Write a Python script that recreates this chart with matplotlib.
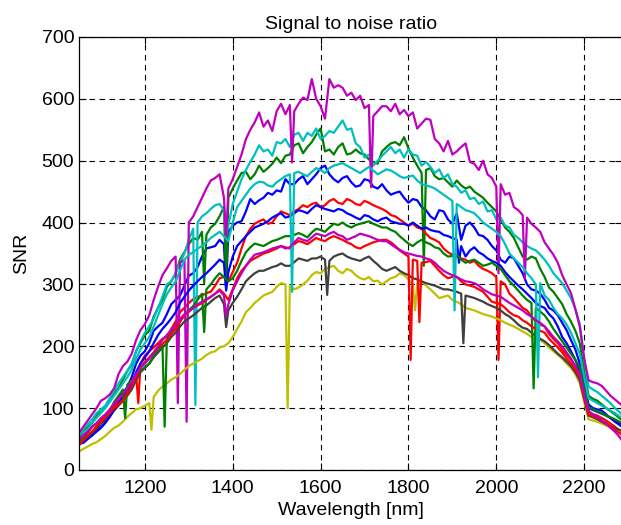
import matplotlib
matplotlib.use("Agg")
import matplotlib.pyplot as plt

plt.rcParams['font.family'] = ['Liberation Sans', 'DejaVu Sans']

# wavelength grid (nm), 10 nm steps from 1050 to 2290 (125 points)
wl = list(range(1050, 2291, 10))

# SNR values; each row = 100 nm (10 values), last row 2250-2290
b1 = [45,50,52,56,65,76,80,88,102,118,
      124,134,150,172,185,192,205,225,232,238,
      252,268,275,282,298,314,318,328,345,358,
      360,362,372,365,385,395,400,402,418,438,
      430,436,440,448,445,452,450,470,462,462,
      470,475,462,470,478,488,492,478,470,465,
      472,475,465,458,460,470,468,458,455,462,
      452,445,448,450,440,432,438,436,425,420,
      410,405,420,418,405,398,415,372,395,400,
      392,380,378,372,362,355,340,335,345,342,
      330,318,300,292,290,285,275,262,258,250,
      238,226,210,195,172,140,106,100,98,96,
      90,84,80,76,70]
b1_spikes = [(1385, 296)]

g1 = [52,64,70,76,88,97,102,115,124,132,
      146,160,170,192,205,218,225,248,262,275,
      296,305,318,340,352,365,375,372,385,380,
      392,398,410,425,440,455,468,480,482,470,
      478,492,482,488,495,505,496,508,510,525,
      528,512,522,530,542,552,515,518,510,522,
      528,510,512,518,512,510,502,498,495,515,
      522,528,530,525,538,520,505,492,480,485,
      488,475,470,472,465,458,468,460,455,458,
      450,445,440,432,425,418,405,392,385,375,
      360,345,340,345,342,325,312,295,288,278,
      268,252,240,225,205,160,120,115,112,106,
      100,95,90,84,78]
g1_spikes = [(1335, 302), (1385, 300), (1835, 330)]

r1 = [48,52,60,70,75,82,88,95,104,112,
      118,128,138,155,172,185,192,198,205,212,
      216,228,240,255,262,270,276,280,282,286,
      288,298,310,312,305,320,335,358,378,390,
      398,402,405,398,400,410,418,415,412,418,
      422,428,425,430,432,425,428,435,438,432,
      430,438,435,430,428,435,432,428,425,422,
      418,412,410,405,400,395,398,392,390,382,
      375,372,368,358,352,348,345,342,340,335,
      338,330,325,322,318,312,305,300,285,278,
      270,262,258,248,240,235,232,220,212,205,
      195,186,178,168,158,125,95,90,88,84,
      80,75,70,64,58]
r1_spikes = [(1185, 108), (2005, 178)]

c1 = [55,66,74,82,92,98,104,116,128,140,
      150,160,172,192,208,222,232,245,262,280,
      300,305,318,335,350,372,390,400,410,415,
      422,428,430,420,395,430,450,470,485,498,
      510,525,515,518,508,530,528,535,522,542,
      545,532,545,540,552,535,540,548,545,555,
      565,550,552,528,522,505,510,492,500,508,
      515,522,512,518,505,518,510,508,492,498,
      490,480,486,472,478,462,458,448,452,438,
      440,430,434,418,420,405,408,395,392,380,
      375,368,362,358,355,348,340,330,318,310,
      302,290,278,260,236,180,135,130,126,120,
      114,108,100,94,86]
c1_spikes = [(1315, 105), (1385, 378)]

m1 = [60,70,80,90,100,112,116,122,132,155,
      168,175,188,210,226,236,250,275,296,315,
      326,338,345,335,340,400,410,425,440,455,
      468,472,478,440,455,470,490,510,535,550,
      562,578,555,565,548,580,592,575,590,580,
      592,602,598,632,600,588,568,632,618,622,
      618,605,610,598,605,585,590,572,580,588,
      588,580,592,575,582,572,578,552,560,568,
      566,535,528,515,532,510,515,522,528,498,
      495,485,500,478,472,458,462,445,448,425,
      420,412,408,398,392,385,368,358,348,335,
      315,300,286,260,232,180,145,142,140,136,
      128,120,114,108,102]
m1_spikes = [(1275, 108), (1295, 78), (1385, 372), (1535, 497), (1715, 457),
             (2005, 318), (2065, 310)]

yel = [30,34,38,42,45,50,55,62,68,72,
       78,86,92,98,100,104,108,118,128,135,
       140,146,150,155,162,168,172,176,180,186,
       190,192,198,200,205,215,228,240,255,262,
       270,276,282,285,288,296,302,300,298,292,
       295,300,306,315,320,318,325,328,330,322,
       318,325,322,315,310,308,312,305,306,300,
       305,310,312,318,315,308,300,302,305,298,
       292,285,278,280,282,275,272,268,262,260,
       258,255,252,250,248,245,242,238,235,232,
       228,224,220,215,212,210,205,198,192,186,
       180,172,165,155,140,110,82,80,78,75,
       72,69,66,63,60]
yel_spikes = [(1215, 65), (1525, 100), (1815, 258)]

gry = [42,46,52,58,64,70,78,86,96,104,
       112,120,130,145,158,165,172,182,190,198,
       205,215,222,232,240,245,250,256,262,266,
       272,278,282,268,258,270,280,292,305,312,
       318,322,322,325,328,330,334,330,330,336,
       342,340,338,342,342,345,340,338,345,348,
       350,345,342,340,338,342,345,338,332,325,
       322,325,328,322,318,315,310,308,305,302,
       300,298,295,292,292,290,288,285,282,280,
       278,275,272,268,265,262,258,252,248,242,
       235,230,228,222,216,212,208,202,195,188,
       182,175,168,158,145,115,88,85,82,78,
       74,71,68,65,62]
gry_spikes = [(1385, 231), (1615, 283), (1925, 205)]

b2 = [42,44,50,56,62,68,76,86,98,108,
      118,128,140,158,172,182,192,205,218,228,
      236,245,255,270,280,290,298,305,312,318,
      325,332,340,335,320,345,362,370,378,385,
      392,395,398,402,408,412,415,408,410,415,
      420,418,415,422,428,425,422,420,418,422,
      420,415,412,408,405,412,410,405,402,406,
      408,402,400,398,398,395,400,395,390,392,
      388,386,385,380,378,375,372,362,345,355,
      360,352,348,342,338,335,330,320,312,305,
      298,292,285,278,270,265,262,252,245,232,
      215,205,192,178,160,125,100,97,94,91,
      88,84,78,73,68]
b2_spikes = [(1385, 290), (1915, 335)]

g2 = [45,50,56,62,70,76,84,95,110,120,
      130,138,145,152,160,166,172,185,195,202,
      212,222,230,240,250,258,265,275,285,292,
      300,310,318,312,305,310,322,338,352,360,
      366,364,362,366,370,372,375,378,378,380,
      383,380,376,384,390,388,385,392,398,396,
      400,395,392,396,398,400,402,398,395,392,
      392,388,385,378,372,366,362,368,372,368,
      365,360,358,350,345,346,348,340,335,338,
      340,335,330,332,335,330,325,315,305,298,
      290,282,275,270,262,256,250,240,228,218,
      208,198,188,178,165,130,102,98,95,92,
      88,85,82,78,75]
g2_spikes = [(1155, 84), (1245, 70), (1335, 223), (2085, 132)]

r2 = [40,48,55,62,70,78,84,92,100,106,
      112,124,135,150,165,175,182,190,198,204,
      210,220,228,240,250,256,262,266,270,275,
      280,285,292,285,275,292,310,322,330,338,
      342,346,350,352,355,358,362,360,358,365,
      370,368,365,370,375,372,370,375,378,375,
      372,368,365,360,358,362,365,368,370,372,
      372,368,362,355,350,345,340,338,335,336,
      338,330,322,315,310,312,312,305,300,298,
      296,292,288,280,272,270,268,262,255,250,
      248,242,238,232,228,225,222,212,205,198,
      190,180,172,162,150,118,90,87,84,80,
      76,70,65,60,55]
r2_spikes = [(1805, 178), (1825, 239)]

c2 = [50,58,66,76,84,92,100,110,120,130,
      140,150,162,180,195,205,215,232,250,268,
      284,295,305,322,340,348,352,358,362,368,
      375,380,385,378,370,400,425,435,445,455,
      462,466,465,460,458,465,470,475,478,480,
      482,478,475,482,488,485,480,488,492,494,
      496,492,488,484,480,485,490,484,478,482,
      486,484,480,475,472,474,476,468,462,460,
      458,455,450,445,440,435,430,425,420,418,
      415,408,400,395,390,385,378,365,350,342,
      335,328,318,310,300,302,282,275,262,252,
      245,235,222,205,188,150,116,112,108,104,
      100,96,92,87,82]
c2_spikes = [(1535, 288), (1905, 258), (2095, 150)]

m2 = [50,56,62,70,76,84,90,98,108,116,
      122,132,142,155,165,172,180,190,200,210,
      218,226,235,244,252,256,262,268,272,276,
      280,285,290,282,268,290,305,318,330,340,
      348,350,352,355,358,360,362,358,360,368,
      375,372,370,376,382,380,378,382,385,380,
      378,372,375,378,382,380,378,375,372,370,
      370,365,360,356,352,350,348,346,345,342,
      340,335,328,322,318,315,312,308,305,304,
      302,298,292,288,284,282,280,275,270,266,
      262,258,252,248,242,238,232,224,215,208,
      200,190,180,168,155,122,95,90,86,80,
      75,68,62,54,44]
m2_spikes = [(1385, 248)]

# MATLAB default colour order: b, g, r, c, m, y, k (cycled)
series = [
    (b1, b1_spikes, '#0000FF'), (g1, g1_spikes, '#008000'), (r1, r1_spikes, '#FF0000'),
    (c1, c1_spikes, '#00BFBF'), (m1, m1_spikes, '#BF00BF'), (yel, yel_spikes, '#BFBF00'),
    (gry, gry_spikes, '#404040'), (b2, b2_spikes, '#0000FF'), (g2, g2_spikes, '#008000'),
    (r2, r2_spikes, '#FF0000'), (c2, c2_spikes, '#00BFBF'), (m2, m2_spikes, '#BF00BF'),
]

x_ticks = [1200, 1400, 1600, 1800, 2000, 2200]
y_ticks = [0, 100, 200, 300, 400, 500, 600, 700]

fig = plt.figure(figsize=(6.21, 5.25), dpi=100)
ax = fig.add_axes([0.1272, 0.1048, 0.875, 0.8248])

for vals, spikes, col in series:
    n = min(len(wl), len(vals))
    pts = sorted(list(zip(wl[:n], vals[:n])) + list(spikes))
    xs = [p[0] for p in pts]
    ys = [p[1] for p in pts]
    ax.plot(xs, ys, color=col, lw=1.6)

ax.set_xlim(1050, 2287)
ax.set_ylim(0, 700)
ax.set_xticks(x_ticks)
ax.set_yticks(y_ticks)
ax.grid(True, color='black', linestyle=(0, (5, 4)), linewidth=0.8)
ax.set_axisbelow(True)
ax.tick_params(direction='in', top=True, right=True, length=5, labelsize=14, width=0.8)
ax.tick_params(axis='x', pad=7)
for s in ax.spines.values():
    s.set_linewidth(0.9)
ax.set_title('Signal to noise ratio', fontsize=14, pad=6)
ax.set_xlabel('Wavelength [nm]', fontsize=14, labelpad=4)
ax.set_ylabel('SNR', fontsize=14, labelpad=8)

fig.savefig('out.png', dpi=100)
